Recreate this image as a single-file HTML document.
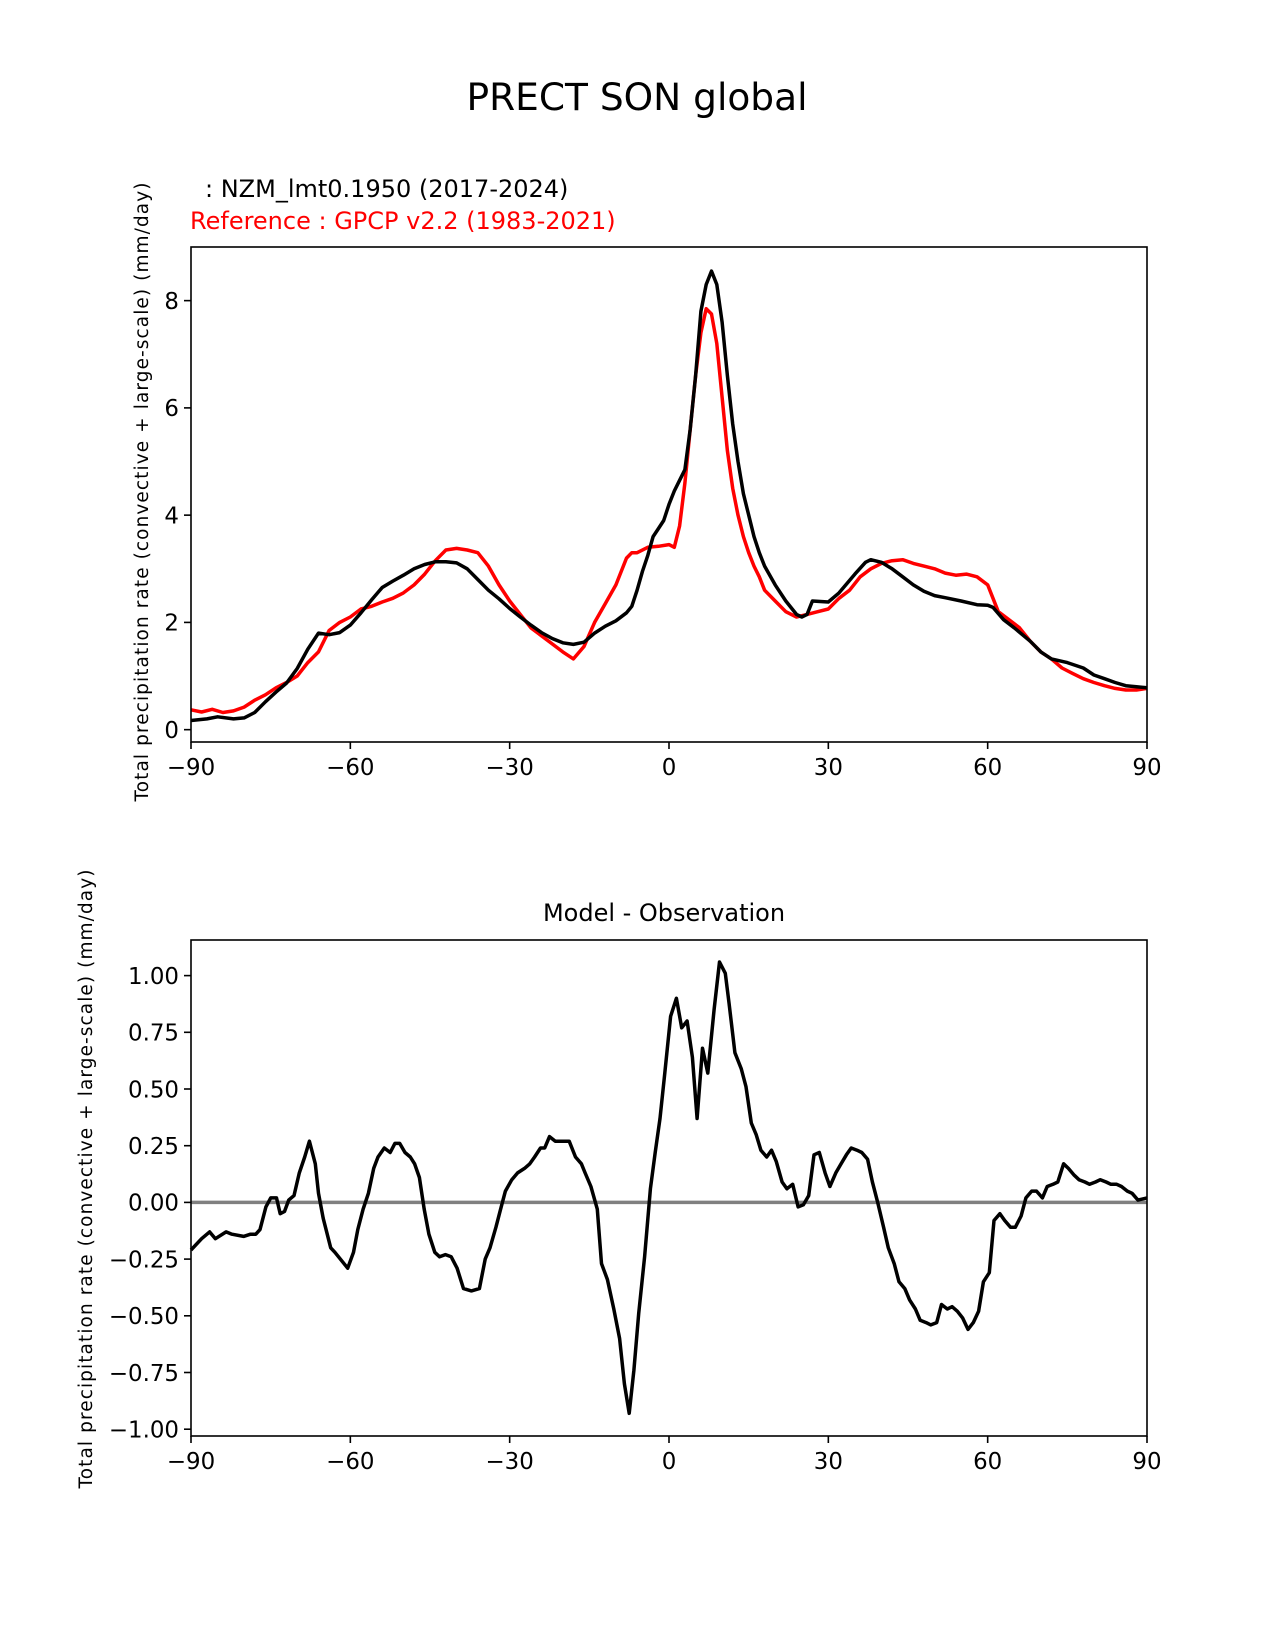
<!DOCTYPE html>
<html><head><meta charset="utf-8">
<style>
html,body{margin:0;padding:0;background:#fff;}
svg{display:block;font-family:"DejaVu Sans","Liberation Sans",sans-serif;}
</style></head>
<body>
<svg id="fig" width="1275" height="1650" viewBox="0 0 1275 1650" xmlns="http://www.w3.org/2000/svg">
<rect width="1275" height="1650" fill="#fff"/>
<text x="637" y="110" font-size="37.5" text-anchor="middle">PRECT SON global</text>
<text x="205" y="197" font-size="24">: NZM_lmt0.1950 (2017-2024)</text>
<text x="190" y="229" font-size="24" fill="#ff0000">Reference : GPCP v2.2 (1983-2021)</text>
<text x="664" y="921" font-size="24" text-anchor="middle">Model - Observation</text>
<text transform="translate(148,492) rotate(-90)" font-size="18.5" text-anchor="middle" textLength="619">Total precipitation rate (convective + large-scale) (mm/day)</text>
<text transform="translate(92,1179) rotate(-90)" font-size="18.5" text-anchor="middle" textLength="619">Total precipitation rate (convective + large-scale) (mm/day)</text>
<g id="top"></g>
<g id="bot"></g>
</svg>
<script>
// ---- data ----
const xTicks = [-90,-60,-30,0,30,60,90];
const topYTicks = [0,2,4,6,8];
const botYTicks = [-1.00,-0.75,-0.50,-0.25,0.00,0.25,0.50,0.75,1.00];

const modelLat = [-90,-87,-85,-82,-80,-78,-76,-74,-72,-70,-68,-66,-64,-62,-60,-58,-56,-54,-52,-50,-48,-46,-44,-42,-40,-38,-36,-34,-32,-30,-28,-26,-24,-22,-20,-18,-16,-14,-12,-10,-8,-7,-6,-5,-4,-3,-2,-1,0,1,2,3,4,5,6,7,8,9,10,11,12,13,14,15,16,17,18,20,22,24,25,26,27,30,32,35,37,38,40,42,44,46,48,50,52,55,58,60,61,63,65,68,70,72,75,78,80,82,84,86,88,90];
const modelVal = [0.17,0.2,0.24,0.2,0.22,0.32,0.52,0.7,0.87,1.14,1.5,1.8,1.77,1.81,1.95,2.18,2.42,2.65,2.77,2.88,3.0,3.08,3.13,3.13,3.11,3.0,2.8,2.6,2.44,2.26,2.1,1.95,1.81,1.7,1.62,1.59,1.63,1.8,1.93,2.03,2.18,2.3,2.6,2.95,3.25,3.6,3.75,3.9,4.2,4.45,4.65,4.85,5.6,6.6,7.8,8.3,8.55,8.3,7.6,6.6,5.7,5.0,4.4,4.0,3.6,3.3,3.05,2.7,2.4,2.15,2.1,2.15,2.4,2.38,2.55,2.9,3.12,3.17,3.12,3.0,2.85,2.7,2.58,2.5,2.46,2.4,2.33,2.32,2.28,2.05,1.9,1.65,1.45,1.32,1.25,1.15,1.02,0.95,0.88,0.82,0.8,0.78];

const refLat = [-90,-88,-86,-84,-82,-80,-78,-76,-74,-72,-70,-68,-66,-64,-62,-60,-58,-56,-54,-52,-50,-48,-46,-44,-42,-40,-38,-36,-34,-32,-30,-28,-26,-24,-22,-20,-18,-16,-14,-12,-10,-8,-7,-6,-4,-2,0,1,2,3,4,5,6,7,8,9,10,11,12,13,14,15,16,17,18,20,22,24,26,28,30,32,34,36,38,40,42,44,46,48,50,52,54,56,58,60,61,62,64,66,68,70,72,74,76,78,80,82,84,86,88,90];
const refVal = [0.37,0.33,0.38,0.32,0.35,0.42,0.55,0.65,0.78,0.88,1.0,1.25,1.45,1.85,2.0,2.1,2.25,2.3,2.38,2.45,2.55,2.7,2.9,3.15,3.35,3.38,3.35,3.3,3.05,2.7,2.4,2.15,1.9,1.75,1.6,1.45,1.32,1.55,2.0,2.35,2.7,3.2,3.3,3.3,3.4,3.42,3.45,3.4,3.8,4.6,5.6,6.6,7.4,7.85,7.75,7.2,6.2,5.2,4.5,4.0,3.6,3.3,3.05,2.85,2.6,2.4,2.2,2.1,2.15,2.2,2.25,2.45,2.6,2.85,3.0,3.1,3.15,3.17,3.1,3.05,3.0,2.92,2.88,2.9,2.85,2.7,2.45,2.2,2.05,1.9,1.65,1.45,1.32,1.15,1.05,0.95,0.88,0.82,0.77,0.74,0.74,0.77];

const diffLat = [-90,-88,-86.5,-85.4,-83.4,-82.3,-80.1,-78.8,-77.8,-77,-75.9,-75,-73.9,-73.2,-72.4,-71.6,-70.6,-69.6,-68.6,-67.7,-66.6,-66,-65.1,-63.7,-62.9,-60.5,-59.4,-58.6,-57.6,-56.6,-55.6,-54.8,-53.6,-52.5,-51.6,-50.7,-49.7,-48.7,-47.9,-47,-46.1,-45.2,-44.1,-43.2,-42.1,-41,-39.9,-38.7,-37.2,-35.7,-34.6,-33.7,-32.6,-31.7,-30.8,-29.6,-28.5,-27.2,-26.2,-25.3,-24.2,-23.4,-22.5,-21.4,-20.4,-18.8,-17.6,-16.5,-15.8,-14.7,-13.5,-12.7,-11.6,-10.4,-9.3,-8.4,-7.5,-6.6,-5.7,-4.6,-3.5,-2.6,-1.7,-0.8,0.3,1.4,2.4,3.4,4.4,5.3,6.3,7.3,8.5,9.5,10.6,11.3,12.4,13.6,14.5,15.5,16.4,17.3,18.4,19.3,20.2,21.3,22.2,23.3,24.3,25.3,26.3,27.3,28.3,29.4,30.3,31.4,32.4,33.4,34.3,35.4,36.3,37.4,38.3,39.3,40.4,41.3,42.4,43.3,44.4,45.3,46.4,47.3,48.4,49.3,50.4,51.3,52.4,53.3,54.3,55.3,56.3,57.3,58.3,59.2,60.3,61.2,62.3,63.2,64.3,65.2,66.3,67.2,68.3,69.2,70.3,71.2,72.3,73.2,74.3,75.2,76.3,77.2,78.3,79.2,80.3,81.2,82.3,83.2,84.3,85.2,86.3,87.2,88.3,90];
const diffVal = [-0.21,-0.16,-0.13,-0.16,-0.13,-0.14,-0.15,-0.14,-0.14,-0.12,-0.02,0.02,0.02,-0.05,-0.04,0.01,0.03,0.13,0.2,0.27,0.17,0.04,-0.07,-0.2,-0.22,-0.29,-0.22,-0.12,-0.03,0.04,0.15,0.2,0.24,0.22,0.26,0.26,0.22,0.2,0.17,0.11,-0.03,-0.14,-0.22,-0.24,-0.23,-0.24,-0.29,-0.38,-0.39,-0.38,-0.25,-0.2,-0.11,-0.03,0.05,0.1,0.13,0.15,0.17,0.2,0.24,0.24,0.29,0.27,0.27,0.27,0.2,0.17,0.13,0.07,-0.03,-0.27,-0.34,-0.47,-0.6,-0.8,-0.93,-0.74,-0.49,-0.24,0.06,0.22,0.37,0.57,0.82,0.9,0.77,0.8,0.64,0.37,0.68,0.57,0.85,1.06,1.01,0.88,0.66,0.59,0.51,0.35,0.3,0.23,0.2,0.23,0.18,0.09,0.06,0.08,-0.02,-0.01,0.03,0.21,0.22,0.13,0.07,0.13,0.17,0.21,0.24,0.23,0.22,0.19,0.09,0,-0.11,-0.2,-0.27,-0.35,-0.38,-0.43,-0.47,-0.52,-0.53,-0.54,-0.53,-0.45,-0.47,-0.46,-0.48,-0.51,-0.56,-0.53,-0.48,-0.35,-0.31,-0.08,-0.05,-0.08,-0.11,-0.11,-0.06,0.02,0.05,0.05,0.02,0.07,0.08,0.09,0.17,0.15,0.12,0.1,0.09,0.08,0.09,0.1,0.09,0.08,0.08,0.07,0.05,0.04,0.01,0.02];

// ---- drawing ----
const NS = "http://www.w3.org/2000/svg";
function mk(tag, attrs, parent){
  const e = document.createElementNS(NS, tag);
  for (const k in attrs) e.setAttribute(k, attrs[k]);
  parent.appendChild(e);
  return e;
}
const L = 191, R = 1147;
const TF = 22.9;
function xs(lat){ return L + (lat + 90) / 180 * (R - L); }

function drawAxes(g, T, B, ymin, ymax, yticks, fmt, prefix){
  const ys = v => B - (v - ymin) / (ymax - ymin) * (B - T);
  for (const t of xTicks){
    const x = xs(t);
    const tk = mk('line', {x1:x, x2:x, y1:B, y2:B+7, stroke:'#000', 'stroke-width':1.6}, g);
    
    
    const lb = mk('text', {x:x, y:B+33, 'font-size':TF, 'text-anchor':'middle'}, g);
    lb.textContent = String(t).replace('-', '\u2212');
    
    
  }
  for (const t of yticks){
    const y = ys(t);
    const tk = mk('line', {x1:L-7, x2:L, y1:y, y2:y, stroke:'#000', 'stroke-width':1.6}, g);
    
    
    const lb = mk('text', {x:L-12, y:y+8.3, 'font-size':TF, 'text-anchor':'end'}, g);
    lb.textContent = fmt(t).replace('-', '\u2212');
    
    
  }
  return ys;
}
function line(g, lats, vals, ys, color, w, name){
  let d = '';
  lats.forEach((la, i) => { d += (i ? 'L' : 'M') + xs(la).toFixed(1) + ',' + ys(vals[i]).toFixed(1); });
  const p = mk('path', {d:d, fill:'none', stroke:color, 'stroke-width':w, 'stroke-linejoin':'round'}, g);
  
  
}
function frame(g, T, B, name){
  const r = mk('rect', {x:L, y:T, width:R-L, height:B-T, fill:'none', stroke:'#000', 'stroke-width':1.6}, g);
  
  
}

// top panel
const gt = document.getElementById('top');


const T1 = 247, B1 = 742;
const ys1 = drawAxes(gt, T1, B1, -0.23, 9.0, topYTicks, v => String(v), 'top');
line(gt, refLat, refVal, ys1, '#ff0000', 3.5, 'reference-line');
line(gt, modelLat, modelVal, ys1, '#000000', 3.5, 'model-line');
frame(gt, T1, B1, 'top-axes-frame');

// bottom panel
const gb = document.getElementById('bot');


const T2 = 940, B2 = 1436;
const ys2 = drawAxes(gb, T2, B2, -1.03, 1.157, botYTicks, v => v.toFixed(2), 'bottom');
const z = mk('line', {x1:L, x2:R, y1:ys2(0), y2:ys2(0), stroke:'#808080', 'stroke-width':3.5}, gb);


line(gb, diffLat, diffVal, ys2, '#000000', 3.5, 'difference-line');
frame(gb, T2, B2, 'bottom-axes-frame');
</script>
</body></html>
